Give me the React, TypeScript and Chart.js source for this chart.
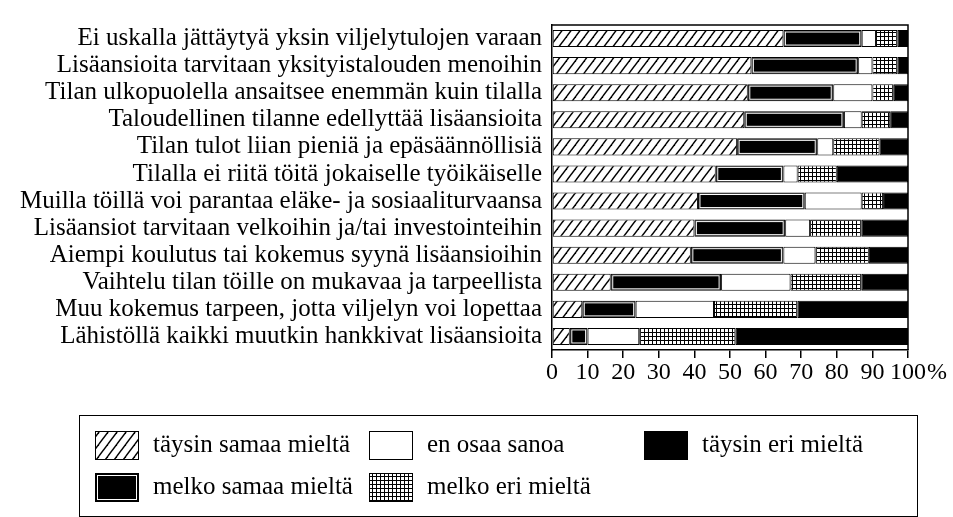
import { useEffect, useRef } from 'react';
import { Chart, registerables } from 'chart.js';

Chart.register(...registerables);

const categories = [
  'Ei uskalla jättäytyä yksin viljelytulojen varaan',
  'Lisäansioita tarvitaan yksityistalouden menoihin',
  'Tilan ulkopuolella ansaitsee enemmän kuin tilalla',
  'Taloudellinen tilanne edellyttää lisäansioita',
  'Tilan tulot liian pieniä ja epäsäännöllisiä',
  'Tilalla ei riitä töitä jokaiselle työikäiselle',
  'Muilla töillä voi parantaa eläke- ja sosiaaliturvaansa',
  'Lisäansiot tarvitaan velkoihin ja/tai investointeihin',
  'Aiempi koulutus tai kokemus syynä lisäansioihin',
  'Vaihtelu tilan töille on mukavaa ja tarpeellista',
  'Muu kokemus tarpeen, jotta viljelyn voi lopettaa',
  'Lähistöllä kaikki muutkin hankkivat lisäansioita',
];

const seriesNames = [
  'täysin samaa mieltä',
  'melko samaa mieltä',
  'en osaa sanoa',
  'melko eri mieltä',
  'täysin eri mieltä',
];

const taysinSamaa = [65, 56, 55, 54, 52, 46, 41, 40, 39, 16.5, 8.5, 5];
const melkoSamaa = [22, 30, 24, 28, 22.5, 19, 30, 25.5, 26, 31, 15, 5];
const enOsaa = [4, 4, 11, 5, 4.5, 4, 16, 7, 9, 19.5, 22, 14.5];
const melkoEri = [6, 7, 6, 8, 13, 11, 6, 14.5, 15, 20, 23.5, 27];
const taysinEri = [3, 3, 4, 5, 8, 20, 7, 13, 11, 13, 31, 48.5];

const xTicks = [0, 10, 20, 30, 40, 50, 60, 70, 80, 90, 100];

const FONT = '"Liberation Serif", "DejaVu Serif", serif';

function makeHatch(ctx: CanvasRenderingContext2D): CanvasPattern {
  const w = 9;
  const h = 12;
  const c = document.createElement('canvas');
  c.width = w;
  c.height = h;
  const g = c.getContext('2d')!;
  g.fillStyle = '#fff';
  g.fillRect(0, 0, w, h);
  g.strokeStyle = '#000';
  g.lineWidth = 1.4;
  const offs = [
    [0, 0],
    [-w, 0],
    [w, 0],
    [0, -h],
    [0, h],
  ];
  for (const [dx, dy] of offs) {
    g.beginPath();
    g.moveTo(dx, dy + h);
    g.lineTo(dx + w, dy);
    g.stroke();
  }
  return ctx.createPattern(c, 'repeat')!;
}

function makeGrid(ctx: CanvasRenderingContext2D): CanvasPattern {
  const s = 4;
  const c = document.createElement('canvas');
  c.width = s;
  c.height = s;
  const g = c.getContext('2d')!;
  g.fillStyle = '#fff';
  g.fillRect(0, 0, s, s);
  g.fillStyle = '#000';
  g.fillRect(0, 0, s, 1);
  g.fillRect(0, 0, 1, s);
  return ctx.createPattern(c, 'repeat')!;
}

export default function App() {
  const ref = useRef<HTMLCanvasElement>(null);

  useEffect(() => {
    const canvas = ref.current!;
    const ctx = canvas.getContext('2d')!;
    const hatch = makeHatch(ctx);
    const grid = makeGrid(ctx);

    const fills: (string | CanvasPattern)[] = [hatch, '#000', '#fff', grid, '#000'];
    const values = [taysinSamaa, melkoSamaa, enOsaa, melkoEri, taysinEri];

    const innerLine = {
      id: 'innerLine',
      afterDatasetsDraw(chart: any) {
        const c = chart.ctx;
        const meta = chart.getDatasetMeta(1);
        c.save();
        c.strokeStyle = '#fff';
        c.lineWidth = 1;
        meta.data.forEach((el: any) => {
          const p = el.getProps(['x', 'y', 'base', 'height'], true);
          const l = Math.min(p.x, p.base);
          const r = Math.max(p.x, p.base);
          const t = p.y - p.height / 2;
          const b = p.y + p.height / 2;
          if (r - l > 6) {
            c.strokeRect(l + 2, t + 2, r - l - 4, b - t - 4);
          }
        });
        c.restore();
      },
    };

    const frame = {
      id: 'frame',
      afterDraw(chart: any) {
        const c = chart.ctx;
        const a = chart.chartArea;
        c.save();
        c.strokeStyle = '#000';
        c.lineWidth = 1.5;
        c.beginPath();
        c.moveTo(a.left, a.top);
        c.lineTo(a.right, a.top);
        c.lineTo(a.right, a.bottom);
        c.stroke();
        // percent sign after the last tick label
        const xs = chart.scales.x;
        const px = xs.getPixelForValue(100);
        c.font = `24px ${FONT}`;
        c.fillStyle = '#000';
        const w = c.measureText('100').width;
        c.textAlign = 'left';
        c.textBaseline = 'middle';
        c.fillText('%', px + w / 2 + 1, a.bottom + 23);
        c.restore();
      },
    };

    const legendBox = {
      id: 'legendBox',
      afterDraw(chart: any) {
        const c = chart.ctx;
        c.save();
        c.strokeStyle = '#000';
        c.lineWidth = 1;
        c.strokeRect(79.5, 415.5, 838, 101);
        const items = [
          { i: 0, x: 95, y: 431 },
          { i: 2, x: 369, y: 431 },
          { i: 4, x: 644, y: 431 },
          { i: 1, x: 95, y: 473 },
          { i: 3, x: 369, y: 473 },
        ];
        c.font = `25px ${FONT}`;
        c.textBaseline = 'middle';
        c.textAlign = 'left';
        for (const it of items) {
          c.fillStyle = fills[it.i] as any;
          c.fillRect(it.x, it.y, 43, 28);
          c.strokeStyle = '#000';
          c.lineWidth = 1;
          c.strokeRect(it.x + 0.5, it.y + 0.5, 43, 28);
          if (it.i === 1) {
            c.strokeStyle = '#fff';
            c.strokeRect(it.x + 2.5, it.y + 2.5, 39, 24);
          }
          c.fillStyle = '#000';
          c.fillText(seriesNames[it.i], it.x + 58, it.y + 14);
        }
        c.restore();
      },
    };

    const chart = new Chart(canvas, {
      type: 'bar',
      data: {
        labels: categories,
        datasets: seriesNames.map((name, i) => ({
          label: name,
          data: values[i],
          backgroundColor: fills[i] as any,
          borderColor: '#000',
          borderWidth: 1,
          borderSkipped: false,
          categoryPercentage: 1,
          barPercentage: 0.63,
        })),
      },
      options: {
        indexAxis: 'y',
        responsive: false,
        animation: false,
        layout: { padding: { top: 7, right: 45, left: 0, bottom: 0 } },
        plugins: {
          legend: { display: false },
          tooltip: { enabled: false },
        },
        scales: {
          x: {
            stacked: true,
            min: 0,
            max: 100,
            afterBuildTicks: (s: any) => {
              s.ticks = xTicks.map((v) => ({ value: v }));
            },
            ticks: {
              color: '#000',
              font: { family: FONT, size: 24 },
              padding: 0,
              maxRotation: 0,
              autoSkip: false,
            },
            grid: {
              drawOnChartArea: false,
              drawTicks: true,
              tickLength: 8,
              color: '#000',
              lineWidth: 1.5,
            },
            border: { display: true, color: '#000', width: 1.5 },
            afterFit: (s: any) => {
              s.height = 167;
            },
          },
          y: {
            stacked: true,
            ticks: {
              color: '#000',
              font: { family: FONT, size: 25 },
              padding: 10,
              autoSkip: false,
            },
            grid: { display: false, drawTicks: false },
            border: { display: true, color: '#000', width: 1.5 },
            afterFit: (s: any) => {
              s.width = 552;
            },
          },
        },
      },
      plugins: [innerLine, frame, legendBox],
    });

    return () => chart.destroy();
  }, []);

  return (
    <div style={{ position: 'absolute', left: 0, top: 0, width: 953, height: 517, background: '#fff' }}>
      <canvas ref={ref} width={953} height={517} style={{ display: 'block' }} />
    </div>
  );
}
